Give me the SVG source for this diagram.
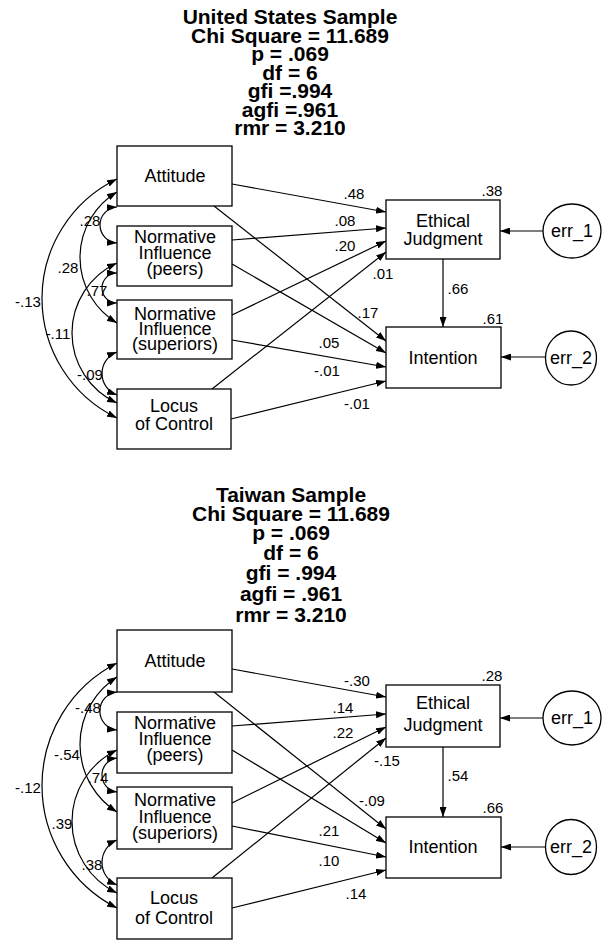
<svg xmlns="http://www.w3.org/2000/svg" width="605" height="940" viewBox="0 0 605 940">
  <style>
    text { font-family: "Liberation Sans", Arial, Helvetica, sans-serif; fill: #000; }
    .hdr { font-size: 21px; font-weight: bold; text-anchor: middle; }
    .lbl { font-size: 18px; text-anchor: middle; }
    .num { font-size: 15px; text-anchor: middle; }
    .box { fill: #fff; stroke: #000; stroke-width: 1.3; }
    .err { fill: #fff; stroke: #000; stroke-width: 1.3; }
    .path { fill: none; stroke: #000; stroke-width: 1.2; marker-end: url(#arrow); }
    .cov { fill: none; stroke: #000; stroke-width: 1.2; marker-start: url(#arrow); marker-end: url(#arrow); }
  </style>
  <defs>
    <marker id="arrow" markerUnits="userSpaceOnUse" markerWidth="10" markerHeight="7" refX="10" refY="3.5" orient="auto-start-reverse">
      <path d="M0,0 L10,3.5 L0,7 z" fill="#000"/>
    </marker>
  </defs>
  <rect width="605" height="940" fill="#fff"/>

  <!-- ===== United States model ===== -->
  <g id="us-fit">
    <text class="hdr" x="290" y="24">United States Sample</text>
    <text class="hdr" x="290" y="42.5">Chi Square = 11.689</text>
    <text class="hdr" x="290" y="61">p = .069</text>
    <text class="hdr" x="290" y="79.5">df = 6</text>
    <text class="hdr" x="290" y="98">gfi =.994</text>
    <text class="hdr" x="290" y="116.5">agfi =.961</text>
    <text class="hdr" x="290" y="135">rmr = 3.210</text>
  </g>

  <g id="us-connectors">
    <!-- paths into Ethical Judgment -->
    <path class="path" d="M232,184 L386,212"/>
    <path class="path" d="M232,240 L386,228"/>
    <path class="path" d="M232,315 L386,241"/>
    <path class="path" d="M212,389 L386,252"/>
    <!-- paths into Intention -->
    <path class="path" d="M214,206 L386,341"/>
    <path class="path" d="M232,264 L386,353"/>
    <path class="path" d="M232,340 L386,367"/>
    <path class="path" d="M231,419 L386,381"/>
    <!-- judgment to intention, error terms -->
    <path class="path" d="M443,259 L443,327"/>
    <path class="path" d="M543,231 L500,231"/>
    <path class="path" d="M546,357 L501,357"/>
    <!-- covariances among exogenous variables -->
    <path class="cov" d="M117,207 A18.03,18.03 0 0 0 117,243"/>
    <path class="cov" d="M117,192 A76.48,76.48 0 0 0 117,323"/>
    <path class="cov" d="M117,179 A132.7,132.7 0 0 0 117,418"/>
    <path class="cov" d="M117,273 A15,15 0 0 0 117,303"/>
    <path class="cov" d="M117,263 A76.94,76.94 0 0 0 117,403"/>
    <path class="cov" d="M117,352 A22.91,22.91 0 0 0 117,395"/>
  </g>

  <g id="us-coefficients">
    <text class="num" x="354" y="198.5">.48</text>
    <text class="num" x="345" y="225.5">.08</text>
    <text class="num" x="345" y="250.5">.20</text>
    <text class="num" x="383" y="278.5">.01</text>
    <text class="num" x="458" y="293.5">.66</text>
    <text class="num" x="368" y="317.5">.17</text>
    <text class="num" x="493" y="323.5">.61</text>
    <text class="num" x="492" y="195.5">.38</text>
    <text class="num" x="329" y="347.5">.05</text>
    <text class="num" x="327" y="375.5">-.01</text>
    <text class="num" x="357" y="408.5">-.01</text>
    <text class="num" x="90" y="225.5">.28</text>
    <text class="num" x="68" y="272.5">.28</text>
    <text class="num" x="28" y="306.5">-.13</text>
    <text class="num" x="97" y="295.5">.77</text>
    <text class="num" x="58" y="338.5">-.11</text>
    <text class="num" x="90" y="379.5">-.09</text>
  </g>

  <g id="us-attitude">
    <rect class="box" x="117" y="146" width="115" height="60"/>
    <text class="lbl" x="175" y="182">Attitude</text>
  </g>
  <g id="us-ni-peers">
    <rect class="box" x="117" y="226" width="115" height="60"/>
    <text class="lbl" x="175" y="243">Normative</text>
    <text class="lbl" x="175" y="259">Influence</text>
    <text class="lbl" x="175" y="275">(peers)</text>
  </g>
  <g id="us-ni-superiors">
    <rect class="box" x="117" y="300" width="115" height="59"/>
    <text class="lbl" x="175" y="320">Normative</text>
    <text class="lbl" x="175" y="335">Influence</text>
    <text class="lbl" x="175" y="350">(superiors)</text>
  </g>
  <g id="us-locus">
    <rect class="box" x="117" y="389" width="114" height="60"/>
    <text class="lbl" x="174" y="412">Locus</text>
    <text class="lbl" x="174" y="430">of Control</text>
  </g>
  <g id="us-judgment">
    <rect class="box" x="386" y="200" width="114" height="59"/>
    <text class="lbl" x="443" y="227">Ethical</text>
    <text class="lbl" x="443" y="245">Judgment</text>
  </g>
  <g id="us-intention">
    <rect class="box" x="386" y="327" width="115" height="61"/>
    <text class="lbl" x="443" y="364">Intention</text>
  </g>
  <g id="us-err1">
    <ellipse class="err" cx="572" cy="231" rx="29" ry="27"/>
    <text class="lbl" x="572" y="237">err_1</text>
  </g>
  <g id="us-err2">
    <ellipse class="err" cx="571" cy="358" rx="25.5" ry="27"/>
    <text class="lbl" x="571" y="364">err_2</text>
  </g>

  <!-- ===== Taiwan model ===== -->
  <g id="tw-fit">
    <text class="hdr" x="291" y="502">Taiwan Sample</text>
    <text class="hdr" x="291" y="521">Chi Square = 11.689</text>
    <text class="hdr" x="291" y="540">p = .069</text>
    <text class="hdr" x="291" y="560">df = 6</text>
    <text class="hdr" x="291" y="580">gfi = .994</text>
    <text class="hdr" x="291" y="601">agfi = .961</text>
    <text class="hdr" x="291" y="621.5">rmr = 3.210</text>
  </g>

  <g id="tw-connectors">
    <!-- paths into Ethical Judgment -->
    <path class="path" d="M232,669 L386,697"/>
    <path class="path" d="M232,726 L386,714"/>
    <path class="path" d="M232,803 L386,727"/>
    <path class="path" d="M212,878 L386,738"/>
    <!-- paths into Intention -->
    <path class="path" d="M214,692 L386,829"/>
    <path class="path" d="M232,750 L386,843"/>
    <path class="path" d="M232,826 L386,857"/>
    <path class="path" d="M232,908 L386,870"/>
    <!-- judgment to intention, error terms -->
    <path class="path" d="M443,747 L443,817"/>
    <path class="path" d="M543,718 L500,718"/>
    <path class="path" d="M546,847 L501,847"/>
    <!-- covariances among exogenous variables -->
    <path class="cov" d="M117,692 A19.1,19.1 0 0 0 117,730"/>
    <path class="cov" d="M117,677 A80.07,80.07 0 0 0 117,812"/>
    <path class="cov" d="M117,663 A137.54,137.54 0 0 0 117,908"/>
    <path class="cov" d="M117,758 A17.13,17.13 0 0 0 117,792"/>
    <path class="cov" d="M117,750 A79.3,79.3 0 0 0 117,893"/>
    <path class="cov" d="M117,840 A24.38,24.38 0 0 0 117,885"/>
  </g>

  <g id="tw-coefficients">
    <text class="num" x="357" y="685.5">-.30</text>
    <text class="num" x="343" y="712.5">.14</text>
    <text class="num" x="343" y="737.5">.22</text>
    <text class="num" x="387" y="765.5">-.15</text>
    <text class="num" x="458" y="780.5">.54</text>
    <text class="num" x="372" y="805.5">-.09</text>
    <text class="num" x="493" y="812.5">.66</text>
    <text class="num" x="492" y="680.5">.28</text>
    <text class="num" x="329" y="835.5">.21</text>
    <text class="num" x="329" y="865.5">.10</text>
    <text class="num" x="356" y="898.5">.14</text>
    <text class="num" x="88" y="712.5">-.48</text>
    <text class="num" x="67" y="759.5">-.54</text>
    <text class="num" x="28" y="792.5">-.12</text>
    <text class="num" x="98" y="782.5">.74</text>
    <text class="num" x="62" y="828.5">.39</text>
    <text class="num" x="92" y="869.5">.38</text>
  </g>

  <g id="tw-attitude">
    <rect class="box" x="117" y="630" width="115" height="62"/>
    <text class="lbl" x="175" y="667">Attitude</text>
  </g>
  <g id="tw-ni-peers">
    <rect class="box" x="117" y="712" width="115" height="61"/>
    <text class="lbl" x="175" y="729">Normative</text>
    <text class="lbl" x="175" y="745">Influence</text>
    <text class="lbl" x="175" y="761">(peers)</text>
  </g>
  <g id="tw-ni-superiors">
    <rect class="box" x="117" y="787" width="115" height="62"/>
    <text class="lbl" x="175" y="806">Normative</text>
    <text class="lbl" x="175" y="823">Influence</text>
    <text class="lbl" x="175" y="839">(superiors)</text>
  </g>
  <g id="tw-locus">
    <rect class="box" x="117" y="878" width="115" height="61"/>
    <text class="lbl" x="174" y="904">Locus</text>
    <text class="lbl" x="174" y="924">of Control</text>
  </g>
  <g id="tw-judgment">
    <rect class="box" x="386" y="685" width="114" height="62"/>
    <text class="lbl" x="443" y="709">Ethical</text>
    <text class="lbl" x="443" y="731">Judgment</text>
  </g>
  <g id="tw-intention">
    <rect class="box" x="386" y="817" width="115" height="61"/>
    <text class="lbl" x="443" y="853">Intention</text>
  </g>
  <g id="tw-err1">
    <ellipse class="err" cx="572" cy="718" rx="29" ry="27"/>
    <text class="lbl" x="572" y="724">err_1</text>
  </g>
  <g id="tw-err2">
    <ellipse class="err" cx="571" cy="847" rx="25.5" ry="27.5"/>
    <text class="lbl" x="571" y="853">err_2</text>
  </g>
</svg>
